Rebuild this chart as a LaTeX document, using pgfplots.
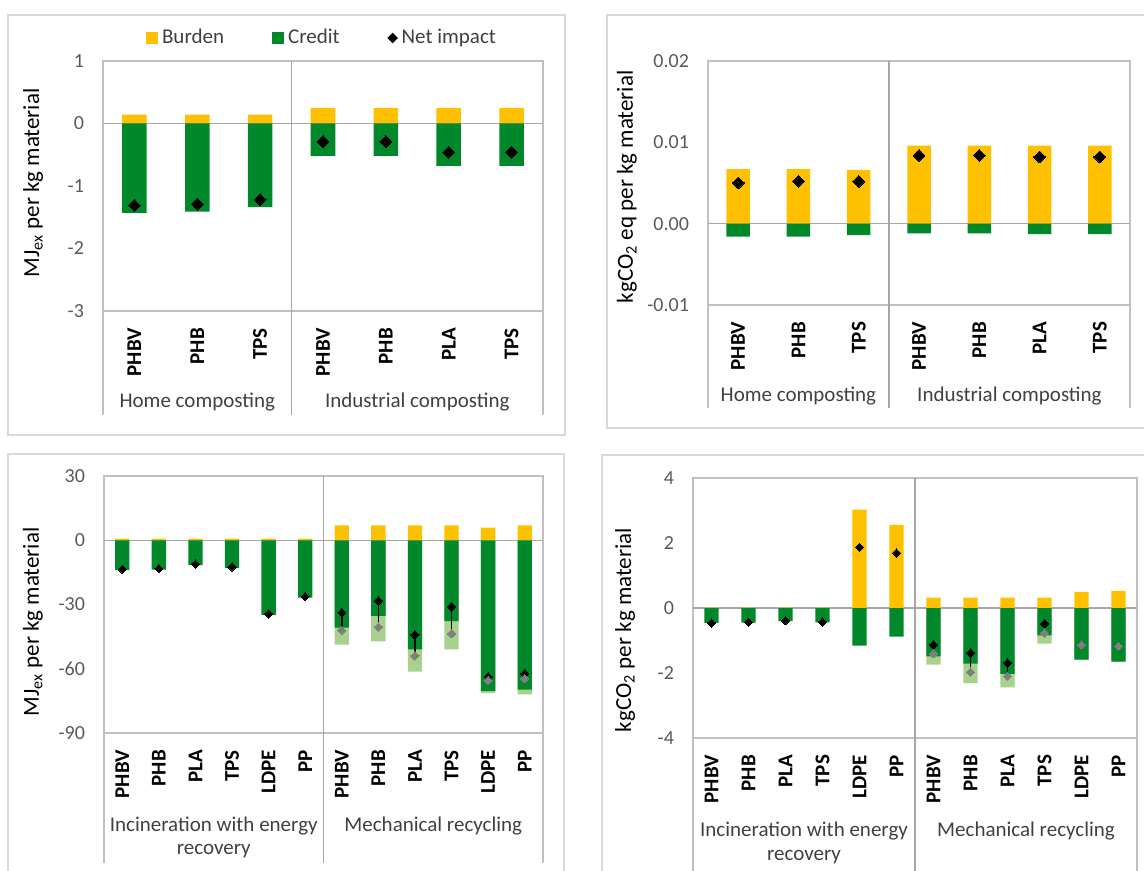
\documentclass[border=0pt]{standalone}
\usepackage{pgfplots}
\pgfplotsset{compat=1.18}
\usepackage{fontspec}
\setmainfont{Carlito}

\definecolor{burden}{HTML}{FFC000}
\definecolor{credit}{HTML}{00882B}
\definecolor{creditalt}{HTML}{A9D18E}
\definecolor{netalt}{HTML}{7F7F7F}
\definecolor{boxgray}{HTML}{C0C0C0}
\definecolor{divgray}{HTML}{A6A6A6}
\definecolor{framegray}{HTML}{D9D9D9}
\definecolor{ticktext}{HTML}{595959}
\definecolor{grouptext}{HTML}{404040}

\tikzset{
  sep/.style={divgray, line width=0.7pt},
  edge/.style={boxgray, line width=0.7pt},
  group/.style={font=\fontsize{10.5}{12}\selectfont, text=grouptext, anchor=base},
}

\pgfplotsset{
  panel/.style={
    scale only axis, anchor=north west, enlargelimits=false, clip=false,
    scaled y ticks=false,
    axis line style={draw=boxgray, line width=0.7pt},
    tick style={draw=none},
    yticklabel style={font=\fontsize{10}{12}\selectfont, text=ticktext, xshift=-6pt},
    xticklabel style={font=\fontsize{10.5}{12}\selectfont\bfseries, text=black,
      yshift=-5pt, rotate=90, anchor=east},
    ylabel style={font=\fontsize{11.5}{14}\selectfont, text=black, anchor=center},
    /pgf/number format/assume math mode=true,
  },
  burdenbar/.style={ybar, bar shift=0pt, bar width=0.39, fill=burden, draw=none},
  creditbar/.style={ybar, bar shift=0pt, bar width=0.39, fill=credit, draw=none},
  altbar/.style={ybar, bar shift=0pt, bar width=0.39, fill=creditalt, draw=none},
  netmark/.style={only marks, mark=square*, mark size=#1,
    mark options={rotate=45, fill=black, draw=black, line width=0pt}},
  altmark/.style={only marks, mark=square*, mark size=#1,
    mark options={rotate=45, fill=netalt, draw=netalt, line width=0pt}},
  rangebar/.style={draw=none, mark=none,
    error bars/.cd, y dir=minus, y explicit, error mark=none,
    error bar style={draw=black, line width=0.8pt}},
}

\begin{document}
\begin{tikzpicture}
\useasboundingbox (0,0) rectangle (572pt,-435.5pt);

% panel frames
\begin{scope}[x=0.5pt, y=-0.5pt]
  \draw[framegray, line width=1pt] (8,15) rectangle (565,435);
  \draw[framegray, line width=1pt] (607,15) rectangle (1150,428);
  \draw[framegray, line width=1pt] (8,454) rectangle (564,890);
  \draw[framegray, line width=1pt] (602,455) rectangle (1150,890);
\end{scope}

% ---------- Abiotic depletion, composting ----------
\begin{axis}[panel,
  at={(51.5pt,-30.5pt)}, width=220pt, height=125pt,
  xmin=-0.5, xmax=6.5, ymin=-3, ymax=1,
  ytick={-3,-2,-1,0,1}, yticklabels={-3,-2,-1,0,1},
  xtick={0,...,6}, xticklabels={PHBV,PHB,TPS,PHBV,PHB,PLA,TPS},
  ylabel={MJ\textsubscript{ex} per kg material},
  ylabel style={at={(axis description cs:-0.159,0.512)}},
  legend columns=3,
  legend style={at={(axis description cs:0.5,1.092)}, anchor=center,
    draw=none, fill=none, font=\fontsize{10.5}{12}\selectfont, text=grouptext,
    /tikz/every even column/.append style={column sep=22pt}},
]
\draw[sep] (axis cs:-0.5,0) -- (axis cs:6.5,0);
\addplot[burdenbar, legend image code/.code={\fill[burden] (0pt,-3pt) rectangle (6pt,3pt);}]
  coordinates {(0,0.14) (1,0.14) (2,0.14) (3,0.25) (4,0.25) (5,0.25) (6,0.25)};
\addlegendentry{Burden}
\addplot[creditbar, legend image code/.code={\fill[credit] (0pt,-3pt) rectangle (6pt,3pt);}]
  coordinates {(0,-1.43) (1,-1.41) (2,-1.34) (3,-0.52) (4,-0.52) (5,-0.68) (6,-0.68)};
\addlegendentry{Credit}
\addplot[netmark=2.1pt, legend image code/.code={\fill[black] (0pt,0pt) -- (2.3pt,2.3pt) -- (4.6pt,0pt) -- (2.3pt,-2.3pt) -- cycle;}]
  coordinates {(0,-1.31) (1,-1.29) (2,-1.22) (3,-0.29) (4,-0.29) (5,-0.46) (6,-0.46)};
\addlegendentry{Net impact}
\draw[sep] (axis cs:2.5,1) -- (axis cs:2.5,-3) -- ++(0pt,-52pt);
\draw[edge] (axis cs:-0.5,-3) -- ++(0pt,-52pt);
\draw[edge] (axis cs:6.5,-3) -- ++(0pt,-52pt);
\node[group, yshift=-48pt] at (axis cs:1,-3) {Home composting};
\node[group, yshift=-48pt] at (axis cs:4.5,-3) {Industrial composting};
\end{axis}

% ---------- Climate change, composting ----------
\begin{axis}[panel,
  at={(354pt,-30.5pt)}, width=211pt, height=122pt,
  xmin=-0.5, xmax=6.5, ymin=-0.01, ymax=0.02,
  ytick={-0.01,0,0.01,0.02}, yticklabels={-0.01,0.00,0.01,0.02},
  xtick={0,...,6}, xticklabels={PHBV,PHB,TPS,PHBV,PHB,PLA,TPS},
  ylabel={kgCO\textsubscript{2} eq per kg material},
  ylabel style={at={(axis description cs:-0.192,0.484)}},
]
\draw[sep] (axis cs:-0.5,0) -- (axis cs:6.5,0);
\addplot[burdenbar]
  coordinates {(0,0.0067) (1,0.0067) (2,0.0066) (3,0.0096) (4,0.0096) (5,0.0096) (6,0.0096)};
\addplot[creditbar]
  coordinates {(0,-0.0016) (1,-0.0016) (2,-0.0014) (3,-0.0012) (4,-0.0012) (5,-0.0013) (6,-0.0013)};
\addplot[netmark=2.1pt]
  coordinates {(0,0.0050) (1,0.0052) (2,0.0052) (3,0.0084) (4,0.0084) (5,0.0082) (6,0.0082)};
\draw[sep] (axis cs:2.5,0.02) -- (axis cs:2.5,-0.01) -- ++(0pt,-51.5pt);
\draw[edge] (axis cs:-0.5,-0.01) -- ++(0pt,-51.5pt);
\draw[edge] (axis cs:6.5,-0.01) -- ++(0pt,-51.5pt);
\node[group, yshift=-48.5pt] at (axis cs:1,-0.01) {Home composting};
\node[group, yshift=-48.5pt] at (axis cs:4.5,-0.01) {Industrial composting};
\end{axis}

% ---------- Abiotic depletion, incineration and recycling ----------
\begin{axis}[panel,
  at={(52pt,-238pt)}, width=219.5pt, height=128.5pt,
  xmin=-0.5, xmax=11.5, ymin=-90, ymax=30,
  ytick={-90,-60,-30,0,30}, yticklabels={-90,-60,-30,0,30},
  xtick={0,...,11}, xticklabels={PHBV,PHB,PLA,TPS,LDPE,PP,PHBV,PHB,PLA,TPS,LDPE,PP},
  ylabel={MJ\textsubscript{ex} per kg material},
  ylabel style={at={(axis description cs:-0.162,0.432)}},
]
\draw[sep] (axis cs:-0.5,0) -- (axis cs:11.5,0);
\addplot[burdenbar]
  coordinates {(0,0.8) (1,0.8) (2,0.8) (3,0.8) (4,0.8) (5,0.8)
               (6,7.0) (7,7.0) (8,7.0) (9,7.0) (10,5.9) (11,7.0)};
\addplot[altbar]
  coordinates {(6,-48.7) (7,-47.2) (8,-61.3) (9,-50.9) (10,-71.4) (11,-71.9)};
\addplot[creditbar]
  coordinates {(0,-14.0) (1,-13.7) (2,-11.6) (3,-13.0) (4,-34.8) (5,-26.8)
               (6,-40.8) (7,-35.3) (8,-50.9) (9,-37.7) (10,-70.3) (11,-69.7)};
\addplot[rangebar]
  coordinates {(6,-33.8) -= (0,8.2) (7,-28.3) -= (0,12.2) (8,-44.2) -= (0,9.8)
               (9,-31.0) -= (0,12.6) (10,-63.8) -= (0,1.6) (11,-62.3) -= (0,2.3)};
\addplot[netmark=1.45pt]
  coordinates {(0,-13.6) (1,-13.3) (2,-11.1) (3,-12.5) (4,-34.4) (5,-26.3)
               (6,-33.8) (7,-28.3) (8,-44.2) (9,-31.0) (10,-63.8) (11,-62.3)};
\addplot[altmark=1.45pt]
  coordinates {(6,-42.0) (7,-40.5) (8,-54.0) (9,-43.6) (10,-65.4) (11,-64.6)};
\draw[sep] (axis cs:5.5,30) -- (axis cs:5.5,-90) -- ++(0pt,-65pt);
\draw[edge] (axis cs:-0.5,-90) -- ++(0pt,-65pt);
\draw[edge] (axis cs:11.5,-90) -- ++(0pt,-65pt);
\node[group, yshift=-49pt] at (axis cs:2.5,-90) {Incineration with energy};
\node[group, yshift=-60.5pt] at (axis cs:2.5,-90) {recovery};
\node[group, yshift=-49pt] at (axis cs:8.5,-90) {Mechanical recycling};
\end{axis}

% ---------- Climate change, incineration and recycling ----------
\begin{axis}[panel,
  at={(346.5pt,-239pt)}, width=222pt, height=130pt,
  xmin=-0.5, xmax=11.5, ymin=-4, ymax=4,
  ytick={-4,-2,0,2,4}, yticklabels={-4,-2,0,2,4},
  xtick={0,...,11}, xticklabels={PHBV,PHB,PLA,TPS,LDPE,PP,PHBV,PHB,PLA,TPS,LDPE,PP},
  ylabel={kgCO\textsubscript{2} per kg material},
  ylabel style={at={(axis description cs:-0.153,0.415)}},
]
\draw[sep] (axis cs:-0.5,0) -- (axis cs:11.5,0);
\addplot[burdenbar]
  coordinates {(0,0.01) (1,0.01) (2,0.01) (3,0.01) (4,3.03) (5,2.56)
               (6,0.32) (7,0.32) (8,0.32) (9,0.32) (10,0.50) (11,0.53)};
\addplot[altbar]
  coordinates {(6,-1.74) (7,-2.31) (8,-2.44) (9,-1.10) (10,-1.59) (11,-1.65)};
\addplot[creditbar]
  coordinates {(0,-0.46) (1,-0.45) (2,-0.40) (3,-0.44) (4,-1.16) (5,-0.88)
               (6,-1.49) (7,-1.71) (8,-2.03) (9,-0.84) (10,-1.59) (11,-1.65)};
\addplot[rangebar]
  coordinates {(6,-1.13) -= (0,0.28) (7,-1.38) -= (0,0.59) (8,-1.69) -= (0,0.41)
               (9,-0.48) -= (0,0.29) (10,-1.13) -= (0,0) (11,-1.18) -= (0,0)};
\addplot[netmark=1.45pt]
  coordinates {(0,-0.46) (1,-0.44) (2,-0.39) (3,-0.43) (4,1.87) (5,1.69)
               (6,-1.13) (7,-1.38) (8,-1.69) (9,-0.48) (10,-1.13) (11,-1.18)};
\addplot[altmark=1.45pt]
  coordinates {(6,-1.41) (7,-1.97) (8,-2.10) (9,-0.77) (10,-1.13) (11,-1.18)};
\draw[sep] (axis cs:5.5,4) -- (axis cs:5.5,-4) -- ++(0pt,-70pt);
\draw[edge] (axis cs:-0.5,-4) -- ++(0pt,-70pt);
\draw[edge] (axis cs:11.5,-4) -- ++(0pt,-70pt);
\node[group, yshift=-49.5pt] at (axis cs:2.5,-4) {Incineration with energy};
\node[group, yshift=-61.5pt] at (axis cs:2.5,-4) {recovery};
\node[group, yshift=-49.5pt] at (axis cs:8.5,-4) {Mechanical recycling};
\end{axis}
\end{tikzpicture}
\end{document}
